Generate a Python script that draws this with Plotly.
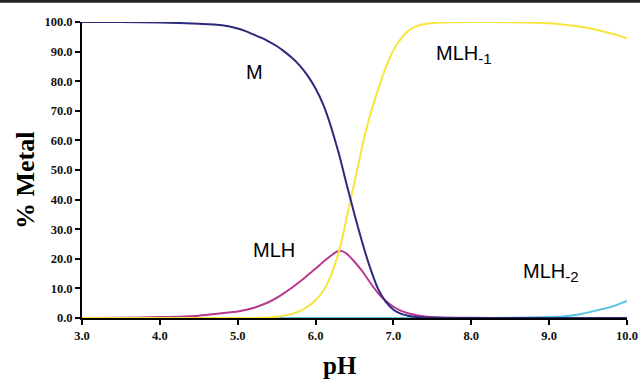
import plotly.graph_objects as go

ph = [3.0, 3.5, 4.0, 4.5, 4.8,
      5.0, 5.1, 5.2, 5.3, 5.4, 5.5, 5.6, 5.7, 5.8, 5.9,
      6.0, 6.1, 6.2, 6.25, 6.3, 6.35, 6.4, 6.5, 6.6, 6.7, 6.8, 6.9,
      7.0, 7.1, 7.2, 7.3, 7.4, 7.6, 8.0, 8.5, 9.0, 9.2, 9.4, 9.6, 9.8, 10.0]

m_vals = [100, 100, 99.8, 99.4, 98.9,
          97.8, 96.9, 95.8, 94.7, 93.4, 91.9, 90.0, 87.8, 85.2, 81.8,
          77.5, 72, 64.5, 60, 55.5, 50.3, 45, 35, 25.5, 17, 10, 5.5,
          2.8, 1.4, 0.7, 0.35, 0.15, 0.05, 0, 0, 0, 0, 0, 0, 0, 0]

mlh_vals = [0, 0.1, 0.3, 0.8, 1.6,
            2.2, 2.7, 3.4, 4.3, 5.4, 6.8, 8.5, 10.3, 12.3, 14.5,
            16.7, 19, 21.1, 22.1, 22.6, 22.5, 21.7, 19, 15.8, 12, 8.5, 5.8,
            3.8, 2.4, 1.5, 0.9, 0.5, 0.2, 0.05, 0, 0, 0, 0, 0, 0, 0]

mlh_m1_vals = [0, 0, 0, 0, 0,
               0, 0, 0, 0.05, 0.2, 0.4, 0.8, 1.4, 2.4, 3.9,
               6, 9.2, 14.5, 18.2, 22.5, 27.8, 34, 46, 58, 68.5, 77, 84.5,
               90.5, 94.5, 97.2, 98.6, 99.3, 99.8, 100, 99.9, 99.6, 99.1, 98.4, 97.4, 96.1, 94.5]

mlh_m2_vals = [0, 0, 0, 0, 0,
               0, 0, 0, 0, 0, 0, 0, 0, 0, 0,
               0, 0, 0, 0, 0, 0, 0, 0, 0, 0, 0, 0,
               0, 0, 0, 0, 0, 0, 0, 0.05, 0.3, 0.6, 1.3, 2.5, 3.8, 5.8]

x_ticks = [3, 4, 5, 6, 7, 8, 9, 10]
y_ticks = [0, 10, 20, 30, 40, 50, 60, 70, 80, 90, 100]

sub = '<sub><span style="font-size:15px">{}</span></sub>'
labels = [
    ("M", 5.22, 83),
    ("MLH" + sub.format("-1"), 7.9, 89),
    ("MLH", 5.47, 23),
    ("MLH" + sub.format("-2"), 9.03, 15.5),
]

fig = go.Figure()
series = [
    (mlh_m2_vals, "#5BC3E4"),
    (mlh_vals, "#B8388F"),
    (mlh_m1_vals, "#F9E43C"),
    (m_vals, "#2C2A7C"),
]
for vals, col in series:
    fig.add_trace(go.Scatter(x=ph, y=vals, mode="lines",
                             line=dict(color=col, width=2, shape="spline", smoothing=0.6),
                             showlegend=False, hoverinfo="skip"))

for txt, xv, yv in labels:
    fig.add_annotation(x=xv, y=yv, text=txt, showarrow=False,
                       font=dict(family="Liberation Sans, Arial", size=20, color="black"))

serif = "Liberation Serif, Times New Roman, serif"
# axis titles as positioned annotations (pixel-based paper coords)
fig.add_annotation(xref="paper", yref="paper", x=(25 - 82) / 545, y=(318 - 181) / 296,
                   xanchor="center", yanchor="middle",
                   text="<b>% Metal</b>", textangle=-90, showarrow=False,
                   font=dict(family=serif, size=26, color="black"))
fig.add_annotation(xref="paper", yref="paper", x=(340 - 82) / 545, y=(318 - 365) / 296,
                   xanchor="center", yanchor="middle",
                   text="<b>pH</b>", showarrow=False,
                   font=dict(family=serif, size=25, color="black"))

fig.add_shape(type="line", xref="paper", yref="paper", x0=-0.2, x1=1.1, y0=1.07, y1=1.07,
              line=dict(color="#222", width=3))

fig.update_layout(
    width=640, height=379,
    margin=dict(l=82, r=13, t=22, b=61),
    paper_bgcolor="white", plot_bgcolor="white",
    xaxis=dict(range=[3, 10], tickvals=x_ticks, tickformat=".1f", automargin=False,
               showgrid=False, zeroline=False, showline=True, linecolor="black", linewidth=2,
               ticks="outside", ticklen=5, tickwidth=2, tickcolor="black",
               tickfont=dict(family=serif, size=12.5, color="#111", weight="bold")),
    yaxis=dict(range=[0, 100], tickvals=y_ticks, tickformat=".1f", automargin=False,
               showgrid=False, zeroline=False, showline=True, linecolor="black", linewidth=2,
               ticks="outside", ticklen=5, tickwidth=2, tickcolor="black",
               tickfont=dict(family=serif, size=12.5, color="#111", weight="bold")),
)

fig.write_html("out.html", config={"displayModeBar": False},
               post_script="document.body.style.margin='0';")
